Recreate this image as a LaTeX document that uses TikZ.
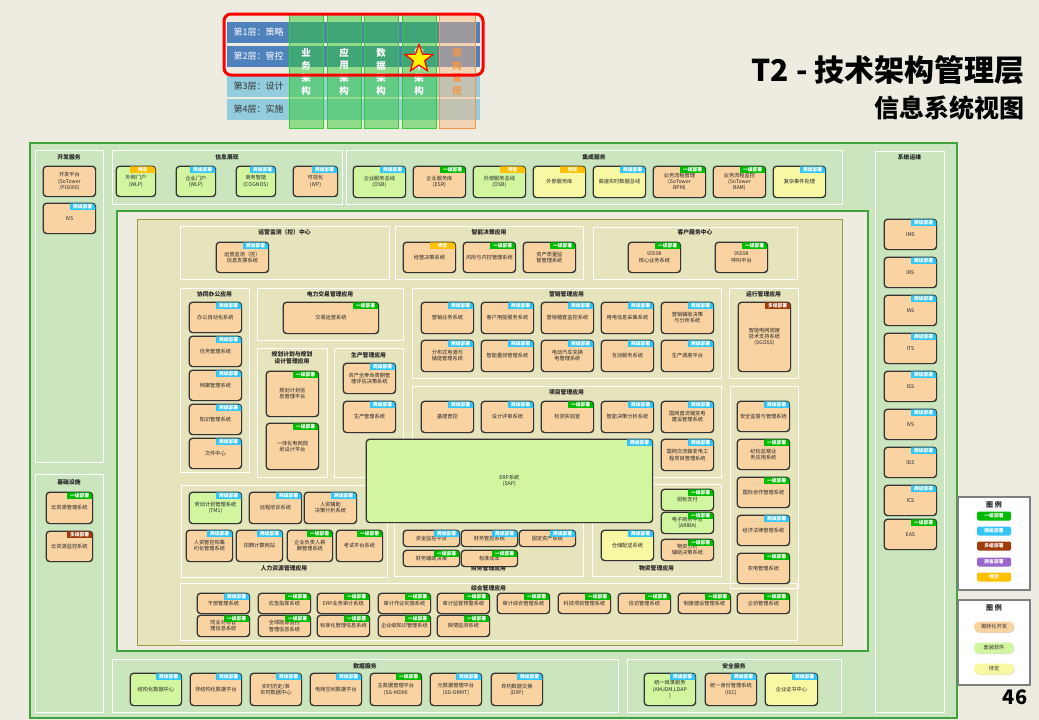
\documentclass[tikz,border=0pt]{standalone}
\usepackage{fontspec}
\setmainfont{Noto Sans CJK SC}
\XeTeXlinebreaklocale "zh"
\XeTeXlinebreakskip = 0pt
\usetikzlibrary{shapes.geometric,shadows}
\definecolor{pagebg}{HTML}{EEECE1}
\definecolor{outerfill}{HTML}{CBE6BF}
\definecolor{outerline}{HTML}{3FA23F}
\definecolor{olivefill}{HTML}{E6E4BD}
\definecolor{oliveline}{HTML}{9C9A40}
\definecolor{peach}{HTML}{FAD3A2}
\definecolor{lime}{HTML}{D2F5A0}
\definecolor{lemon}{HTML}{F7F7A4}
\definecolor{tagone}{HTML}{00BB00}
\definecolor{tagtwo}{HTML}{33C6F4}
\definecolor{tagmulti}{HTML}{A03C0C}
\definecolor{tagprov}{HTML}{9966CC}
\definecolor{tagtbd}{HTML}{FFC000}
\definecolor{layerdark}{HTML}{4F81BD}
\definecolor{layerlight}{HTML}{93CDDD}
\definecolor{colgreen}{HTML}{33CC33}
\definecolor{colorange}{HTML}{F79646}
\definecolor{boxedge}{HTML}{333333}

\begin{document}
\begin{tikzpicture}[
  x=1pt, y=-1pt,
  sys/.style={rectangle, rounded corners=3.5pt, draw=boxedge, line width=0.8pt, anchor=north west,
    align=center, inner sep=1pt, text=black!85, font={\fontsize{5.2}{6.2}\selectfont},
    drop shadow={shadow xshift=0.8pt, shadow yshift=-0.8pt, opacity=0.45}},
  edge/.style={draw=boxedge, line width=0.8pt, rounded corners=3.5pt},
  tag/.style={anchor=north east, minimum width=26pt, minimum height=6.5pt, inner sep=0pt,
    text=white, font={\fontsize{4.8}{5}\selectfont\bfseries}},
  tag-one/.style={tag, fill=tagone, node contents=一级部署},
  tag-two/.style={tag, fill=tagtwo, node contents=两级部署},
  tag-multi/.style={tag, fill=tagmulti, node contents=多级部署},
  tag-prov/.style={tag, fill=tagprov, node contents=网省部署},
  tag-tbd/.style={tag, fill=tagtbd, node contents=待定},
  tag-none/.style={tag, minimum width=0pt, node contents={}},
  group/.style={draw=white, line width=0.9pt},
  gtitle/.style={font={\fontsize{5.8}{6.8}\selectfont\bfseries}, text=black!85, align=center},
  layer/.style={anchor=west, font={\fontsize{9}{10}\selectfont}},
  archcol/.style={fill=colgreen, fill opacity=0.5, draw=colgreen, line width=0.9pt},
  ctrlcol/.style={fill=colorange!70, fill opacity=0.45, draw=colorange, line width=0.9pt},
  colchar/.style={font={\fontsize{9.5}{10}\selectfont\bfseries}, text=white, inner sep=0pt},
  pill/.style={rounded corners=5pt, minimum width=40pt, minimum height=11pt, inner sep=0pt,
    font={\fontsize{5.2}{6}\selectfont}, text=black!80, drop shadow={shadow xshift=0.5pt, shadow yshift=-0.5pt, opacity=0.3}}
]
\useasboundingbox (0,0) rectangle (1039,720);
\fill[pagebg] (0,0) rectangle (1039,720);

% layer overview
\foreach \r/\y/\c/\tc/\s in {1/22/layerdark/white/{第1层：策略}, 2/46/layerdark/white/{第2层：管控},
    3/76/layerlight/black!80/{第3层：设计}, 4/99/layerlight/black!80/{第4层：实施}} {
  \fill[\c] (227,\y) rectangle (480,\y+21);
  \node[layer, text=\tc] (layer\r) at (230,\y+10.5) {\s};
}
\foreach \x in {289,327,364,402} {\draw[archcol] (\x,13) rectangle (\x+34,128);}
\draw[ctrlcol] (439,13) rectangle (475,128);
\foreach \x/\a/\b/\c/\d in {306/业/务/架/构, 344/应/用/架/构, 381/数/据/架/构, 419/技/术/架/构} {
  \node[colchar] (col\x a) at (\x,53) {\a};
  \node[colchar] (col\x b) at (\x,65.5) {\b};
  \node[colchar] (col\x c) at (\x,78) {\c};
  \node[colchar] (col\x d) at (\x,90.5) {\d};
}
\foreach \y/\s in {53/架, 65.5/构, 78/管, 90.5/控} {\node[colchar, text=colorange] (ctrl\y) at (457,\y) {\s};}
\node[star, star points=5, star point ratio=2.4, fill=yellow, draw=red, line width=1.2pt,
  minimum size=29pt, inner sep=0pt] (focus) at (419,59) {};
\draw[red, line width=3pt, rounded corners=7pt] (224,14) rectangle (483,75);

% title
\node[anchor=east, font={\fontsize{30}{32}\selectfont\bfseries}] (title) at (1028,70) {T2 - 技术架构管理层};
\node[anchor=east, font={\fontsize{25}{27}\selectfont\bfseries}] (subtitle) at (1028,108) {信息系统视图};

% frames
\draw[outerline, fill=outerfill, line width=1.2pt] (30,143) rectangle (957,718);
\draw[outerline, fill=pagebg, line width=1.2pt] (117,211) rectangle (868,651);
\draw[oliveline, fill=olivefill, line width=1pt] (137,219) rectangle (842,645);
\foreach \n/\xa/\ya/\xb/\yb/\ty/\s in {
    devsvc/35/150/103/462/157/开发服务, infoview/112/150/342/204/157/信息展现,
    intsvc/346/150/842/204/157/集成服务, sysops/875/151/944/712/157/系统运维,
    infra/35/474/103/712/482/基础设施, datasvc/112/659/618/712/666/数据服务,
    secsvc/627/659/841/712/666/安全服务,
    opscenter/180/226/389/279/232/{运营监测（控）中心}, decision/395/226/583/279/232/智能决策应用,
    custsvc/593/227/797/279/232/客户服务中心, office/180/288/249/472/294/协同办公应用,
    trading/257/288/403/340/294/电力交易管理应用, planning/257/348/327/477/358/{规划计划与规划\\设计管理应用},
    production/334/348/403/477/355/生产管理应用, marketing/412/288/721/378/294/营销管理应用,
    running/729/288/798/378/294/运行管理应用, project/412/386/721/477/392/项目管理应用,
    hr/181/485/387/577/568/人力资源管理应用, finance/394/484/583/576/568/财务管理应用,
    material/592/484/721/576/568/物资管理应用, general/180/583/797/640/588/综合管理应用} {
  \draw[group] (\xa,\ya) rectangle (\xb,\yb);
  \node[gtitle] (\n) at ({(\xa+\xb)/2},\ty) {\s};
}
\draw[group] (730,386) rectangle (798,588);

% systems: name/x/y/w/h/fill/tag/text
\foreach \n/\x/\y/\w/\h/\f/\t/\s in {
    % development, presentation, integration
    devplat/43/166/52/30/peach/none/{开发平台\\(SoTower\\/PI3000)},
    devivs/43/203/52/30/peach/two/{IVS},
    wlpout/116/166/39/30/lime/tbd/{外网门户\\(WLP)},
    wlpin/176/166/39/30/lime/two/{企业门户\\(WLP)},
    bi/236/166/39/30/lime/two/{商务智能\\(COGNOS)},
    ivp/293/166/44/30/peach/two/{可视化\\(IVP)},
    osb/353/166/52/31/lime/two/{企业服务总线\\(OSB)},
    esr/413/166/52/31/peach/one/{企业服务库\\(ESR)},
    osbout/473/166/52/31/lime/tbd/{外部服务总线\\(OSB)},
    esrout/533/166/52/31/lemon/tbd/{外部服务库},
    rtbus/593/166/52/31/lemon/two/{高速实时数据总线},
    bpm/653/166/52/31/peach/one/{业务流程管理\\(SoTower\\BPM)},
    bam/713/166/52/31/peach/one/{业务流程监控\\(SoTower\\BAM)},
    cep/773/166/52/31/lemon/two/{复杂事件处理},
    % operations
    ims/884/219/52/30/peach/two/{IMS}, irs/884/257/52/30/peach/two/{IRS},
    ias/884/295/52/30/peach/two/{IAS}, its/884/333/52/30/peach/two/{ITS},
    iss/884/371/52/30/peach/two/{ISS}, ivs/884/409/52/30/peach/two/{IVS},
    ids/884/447/52/30/peach/two/{IDS}, ics/884/485/52/30/peach/two/{ICS},
    eas/884/519/52/30/peach/one/{EAS},
    % centres and decision
    opsmon/216/242/52/30/peach/two/{运营监测（控）信息支撑系统},
    bizdec/403/242/52/30/peach/tbd/{经营决策系统},
    risk/463/242/52/30/peach/one/{风险与内控管理系统},
    assetq/523/242/52/30/peach/one/{资产质量监督管理系统},
    core95598/628/242/52/30/peach/one/{95598\\核心业务系统},
    call95598/715/242/52/30/peach/one/{95598\\呼叫平台},
    % office, trading, planning, production
    oa/189/302/52/30/peach/two/{办公自动化系统},
    task/189/336/52/30/peach/two/{任务管理系统},
    archive/189/370/52/30/peach/two/{档案管理系统},
    know/189/404/52/30/peach/two/{知识管理系统},
    doc/189/438/52/30/peach/two/{文件中心},
    trade/283/302/95/31/peach/one/{交易运营系统},
    plan/266/371/52/45/peach/one/{规划计划信息管理平台},
    griddesign/266/423/52/46/peach/one/{一体化电网规划设计平台},
    lcam/343/363/52/30/peach/two/{资产全寿命周期管理评估决策系统},
    pms/343/401/52/31/peach/two/{生产管理系统},
    % marketing
    mk1/421/302/52/31/peach/two/{营销业务系统},
    mk2/481/302/52/31/peach/two/{客户用能服务系统},
    mk3/541/302/52/31/peach/two/{营销稽查监控系统},
    mk4/601/302/52/31/peach/two/{用电信息采集系统},
    mk5/661/302/52/31/peach/two/{营销辅助决策与分析系统},
    mk6/421/340/52/31/peach/two/{分布式电源与储能管理系统},
    mk7/481/340/52/31/peach/two/{智能量测管理系统},
    mk8/541/340/52/31/peach/two/{电动汽车充换电管理系统},
    mk9/601/340/52/31/peach/two/{互动服务系统},
    mk10/661/340/52/31/peach/two/{生产调度平台},
    sgoss/738/302/52/69/peach/multi/{智能电网调度技术支持系统\\(SGOSS)},
    % project
    pj1/421/401/52/31/peach/two/{基建管控},
    pj2/481/401/52/31/peach/two/{设计评审系统},
    pj3/541/401/52/31/peach/one/{检测实验室},
    pj4/601/401/52/31/peach/two/{智能决策分析系统},
    pj5/661/401/52/31/peach/two/{国网直流输变电建设管理系统},
    pj6/661/439/52/31/peach/two/{国网交流输变电工程项目管理系统},
    safety/737/401/52/30/peach/two/{安全监督与管理系统},
    discipline/737/439/52/30/peach/one/{纪检监察业务应用系统},
    intl/737/477/52/30/peach/one/{国际合作管理系统},
    legal/737/515/52/30/peach/two/{经济法律管理系统},
    rural/737/553/52/30/peach/one/{农电管理系统},
    % erp, hr, finance, material
    erp/366/439/286/83/lime/two/{ERP系统\\(SAP)},
    tm1/189/492/52/31/lime/two/{劳动计划管理系统\\(TM1)},
    elearn/249/492/52/31/peach/two/{远程培训系统},
    hrdec/304/492/52/31/peach/two/{人资辅助\\决策分析系统},
    hrctrl/186/530/46/31/peach/two/{人资管控和集约化管理系统},
    recruit/236/530/46/31/peach/two/{招聘计算网站},
    salary/287/530/45/31/peach/one/{企业负责人薪酬管理系统},
    exam/336/530/46/31/peach/one/{考试平台系统},
    fund/403/530/56/16/peach/two/{资金监控平台},
    finctrl/461/530/56/16/peach/two/{财务管控系统},
    fixasset/519/530/56/16/peach/two/{固定资产系统},
    findec/403/550/56/16/peach/one/{财务辅助决策},
    stdcost/461/550/56/16/peach/one/{标准成本},
    storage/601/530/52/30/lemon/two/{仓储配送系统},
    bidpay/661/489/52/21/lime/one/{招标支付},
    ariba/661/512/52/21/lime/one/{电子商务平台\\(ARIBA)},
    matdec/661/539/52/21/peach/one/{物资分析\\辅助决策系统},
    % general management
    gm1/197/593/52/20/peach/two/{干部管理系统},
    gm2/258/593/52/20/peach/one/{应急指挥系统},
    gm3/317/593/52/20/peach/one/{ERP业务审计系统},
    gm4/378/593/52/20/peach/one/{审计作业实施系统},
    gm5/437/593/52/20/peach/one/{审计监督预警系统},
    gm6/497/593/52/20/peach/one/{审计综合管理系统},
    gm7/558/593/52/20/peach/one/{科技项目管理系统},
    gm8/618/593/52/20/peach/one/{信访管理系统},
    gm9/678/593/52/20/peach/one/{制度建设管理系统},
    gm10/737/593/52/20/peach/one/{企协管理系统},
    gm11/197/615/52/21/peach/one/{同业对标管理信息系统},
    gm12/258/615/52/21/peach/one/{全球能源监控管理信息系统},
    gm13/317/615/52/21/peach/one/{标准化管理信息系统},
    gm14/378/615/52/21/peach/one/{企业级知识管理系统},
    gm15/437/615/52/21/peach/one/{舆情监测系统},
    % infrastructure, data, security
    cloudmgr/46/492/46/31/peach/one/{云资源管理系统},
    cloudmon/46/531/46/30/peach/multi/{云资源监控系统},
    sdc/130/673/51/32/lime/two/{结构化数据中心},
    usdc/190/673/51/32/peach/two/{非结构化数据平台},
    rtdc/250/673/51/32/peach/two/{实时历史/准实时数据中心},
    gis/310/673/51/32/peach/two/{电网空间数据平台},
    mdm/370/673/51/32/peach/one/{主数据管理平台\\(SG-MDM)},
    drmt/430/673/51/32/peach/two/{元数据管理平台\\(SG-DRMT)},
    dxp/491/673/51/32/peach/two/{异构数据交换\\(DXP)},
    ldap/644/673/51/32/lime/two/{统一目录服务\\(AMJDM,LDAP\\)},
    isc/705/673/51/32/peach/two/{统一身份管理系统\\(ISC)},
    ca/765/673/52/32/lemon/two/{企业证书中心}} {
  \node[sys, fill=\f, minimum width=\w, minimum height=\h, text width=\w-5] (\n) at (\x,\y) {\s};
  \begin{scope}
    \clip[rounded corners=3.5pt] (\n.south west) rectangle (\n.north east);
    \node[name=\n-tag, at={(\n.north east)}, tag-\t];
  \end{scope}
  \draw[edge] (\n.south west) rectangle (\n.north east);
}

% legends
\draw[black!50, fill=white, line width=1.5pt] (958,497) rectangle (1030,590);
\node[gtitle, font={\fontsize{7}{8}\selectfont\bfseries}] (legend1) at (994,505) {图\ 例};
\foreach \t/\y in {one/516, two/531, multi/546, prov/562, tbd/577} {
  \node[name=lg-\t, at={(994,\y)}, tag-\t, anchor=center, minimum width=34pt, minimum height=9pt, rounded corners=1.5pt];
}
\draw[black!50, fill=white, line width=1.5pt] (958,600) rectangle (1030,685);
\node[gtitle, font={\fontsize{7}{8}\selectfont\bfseries}] (legend2) at (994,608) {图\ 例};
\foreach \f/\y/\s in {peach/627/需转化开发, lime/648/套装软件, lemon/669/待定} {
  \node[pill, fill=\f] (lg2-\y) at (994,\y) {\s};
}
\node[font={\fontsize{20}{22}\selectfont\bfseries}] (page) at (1015,697) {46};
\end{tikzpicture}
\end{document}
